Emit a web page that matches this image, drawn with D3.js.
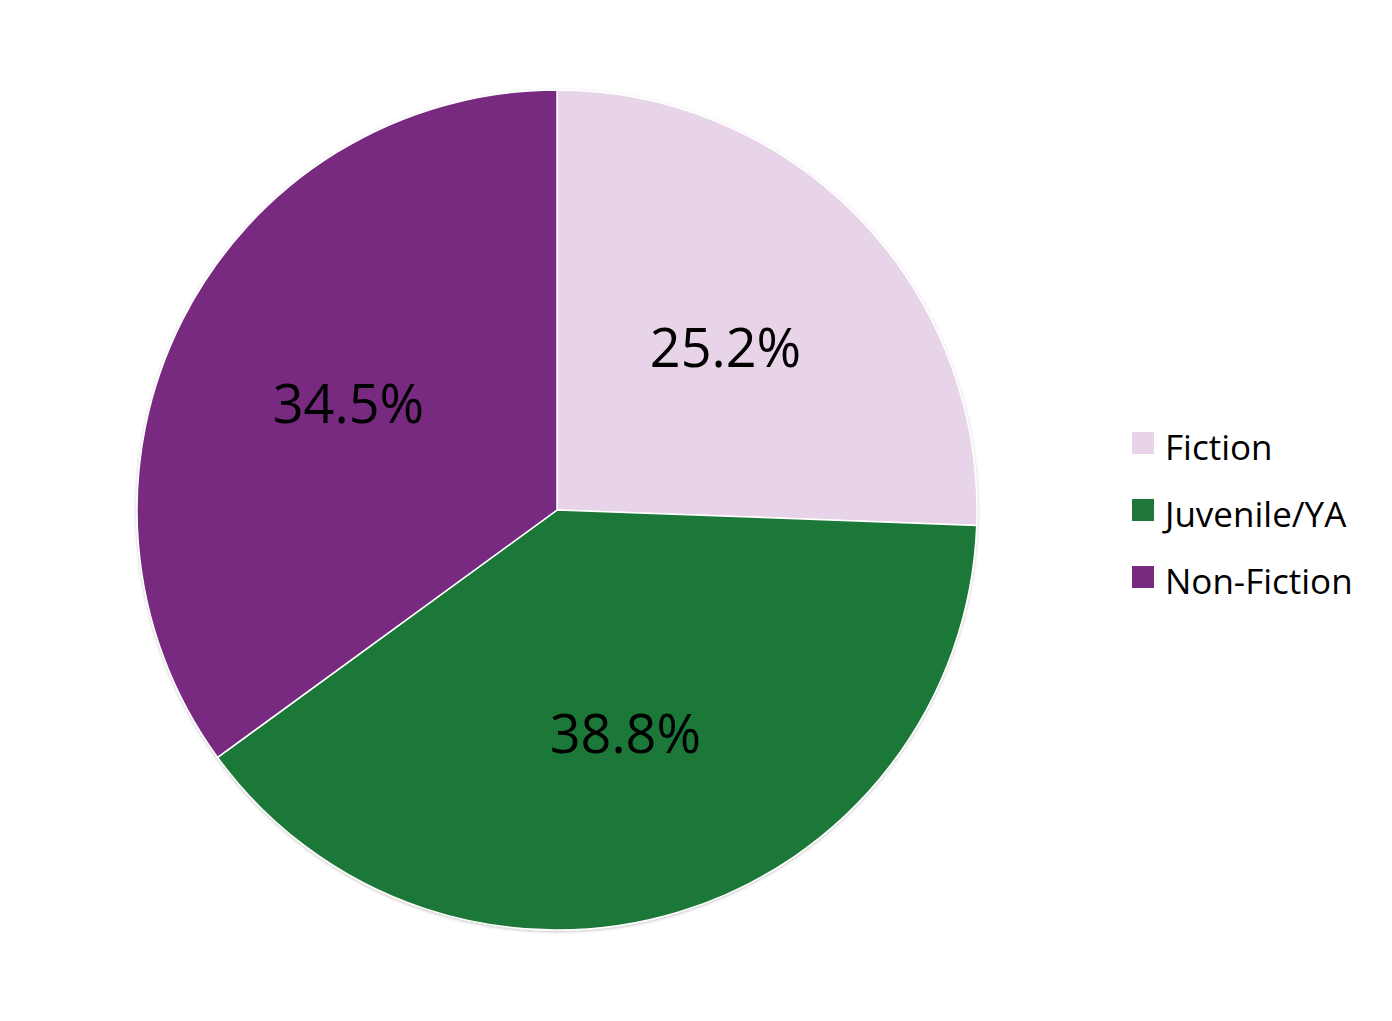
<!DOCTYPE html>
<html>
<head>
<meta charset="utf-8">
<script src="https://cdn.jsdelivr.net/npm/d3@7"></script>
<style>
  body { margin: 0; background: #fff; }
  svg { display: block; font-family: "Open Sans", sans-serif; }
</style>
</head>
<body>
<svg id="chart" width="1392" height="1021"></svg>
<script>
// Chart data
const categories = ['Fiction', 'Juvenile/YA', 'Non-Fiction'];
const shares = [25.2, 38.8, 34.5];
const colors = ['#E8D4E8', '#1F7839', '#772A80'];

const width = 1392;
const height = 1021;
const cx = 557, cy = 510;
const radius = 420;

const svg = d3.select('#chart');

// soft shadow around the pie, like the original
const defs = svg.append('defs');
const shadow = defs.append('filter')
    .attr('id', 'shadow')
    .attr('x', '-10%').attr('y', '-10%')
    .attr('width', '120%').attr('height', '120%');
shadow.append('feDropShadow')
    .attr('dx', 0).attr('dy', 1)
    .attr('stdDeviation', 1.5)
    .attr('flood-color', '#000')
    .attr('flood-opacity', 0.25);

const color = d3.scaleOrdinal().domain(categories).range(colors);

const pie = d3.pie()
    .sort(null)
    .value(d => d.value);

const data = categories.map((c, i) => ({ name: c, value: shares[i] }));
const arcs = pie(data);

const arc = d3.arc().innerRadius(0).outerRadius(radius);
const labelArc = d3.arc().innerRadius(234).outerRadius(234);

const g = svg.append('g').attr('transform', `translate(${cx},${cy})`);

g.append('g')
    .attr('filter', 'url(#shadow)')
    .selectAll('path')
    .data(arcs)
    .enter()
    .append('path')
    .attr('d', arc)
    .attr('fill', d => color(d.data.name))
    .attr('stroke', '#fff')
    .attr('stroke-width', 1.5);

g.selectAll('text.label')
    .data(arcs)
    .enter()
    .append('text')
    .attr('class', 'label')
    .attr('transform', d => `translate(${labelArc.centroid(d)})`)
    .attr('text-anchor', 'middle')
    .attr('dy', '0.36em')
    .attr('font-size', 54)
    .attr('fill', '#000')
    .text(d => d.data.value.toFixed(1) + '%');

// Legend
const legend = svg.append('g').attr('transform', 'translate(1132,443)');
const rowStep = 67;

const item = legend.selectAll('g')
    .data(categories)
    .enter()
    .append('g')
    .attr('transform', (d, i) => `translate(0,${i * rowStep})`);

item.append('rect')
    .attr('x', 0)
    .attr('y', -11)
    .attr('width', 22)
    .attr('height', 22)
    .attr('fill', d => color(d));

item.append('text')
    .attr('x', 33)
    .attr('y', 17)
    .attr('font-size', 35)
    .attr('fill', '#000')
    .text(d => d);
</script>
</body>
</html>
